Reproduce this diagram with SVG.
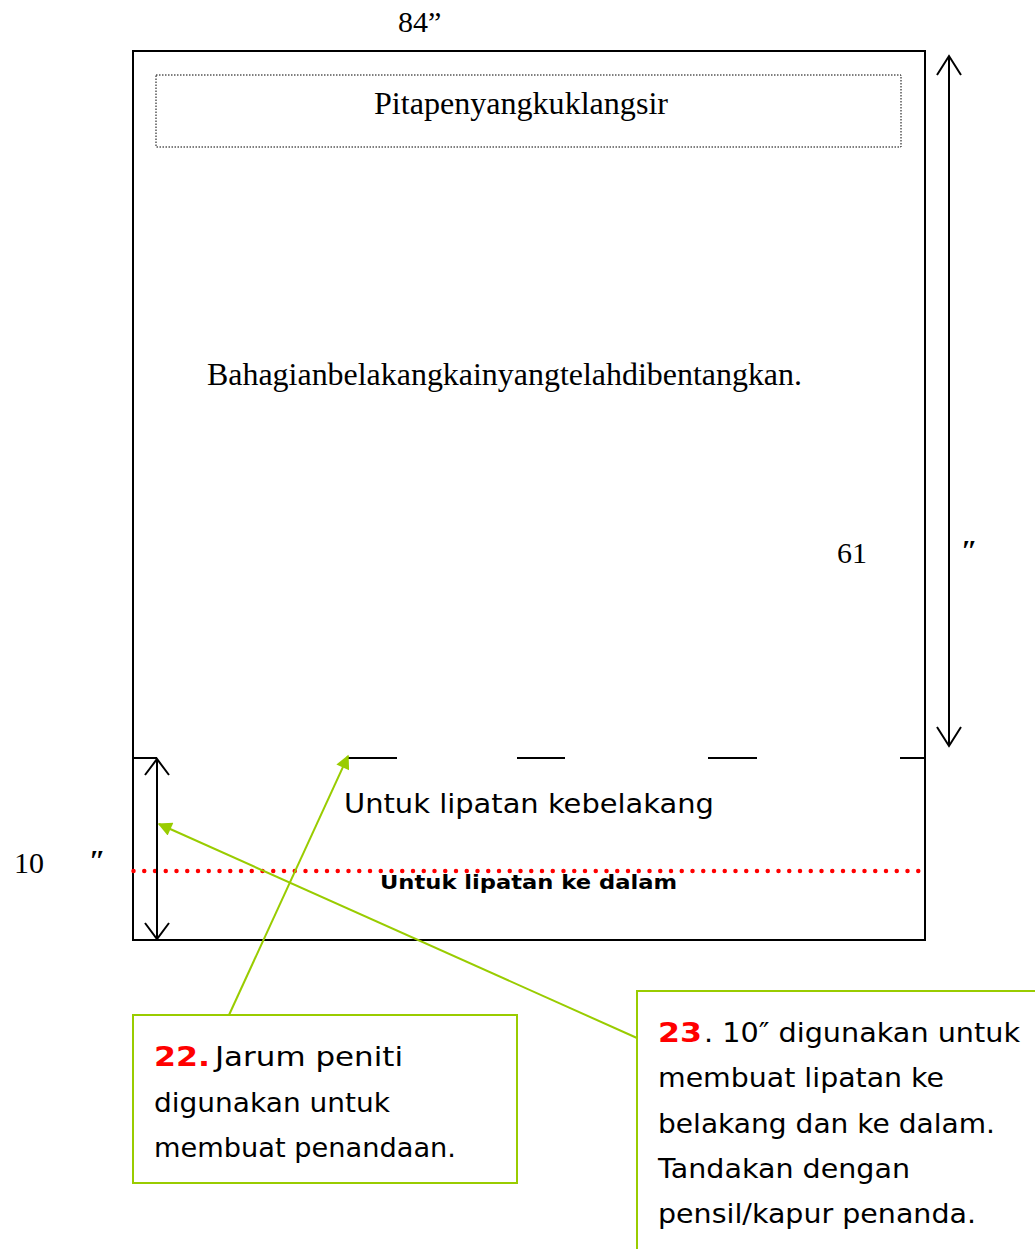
<svg xmlns="http://www.w3.org/2000/svg" width="1035" height="1249" viewBox="0 0 1035 1249">
<style>
.serif{font-family:"Liberation Serif","Times New Roman",serif;fill:#000}
.comic{font-family:"DejaVu Sans","Noto Sans",sans-serif;fill:#000}
.blk{stroke:#000;fill:none}
.green{stroke:#99cc00;fill:none;stroke-width:2}
.num{fill:#ff0000;font-weight:bold}
</style>
<defs>
<marker id="greenHead" viewBox="0 0 10 10" refX="9" refY="5" markerWidth="16" markerHeight="14" markerUnits="userSpaceOnUse" orient="auto">
<path d="M0,0 L10,5 L0,10 z" fill="#99cc00"/>
</marker>
</defs>
<g id="label-84"><text class="serif" x="398" y="32" font-size="30">84”</text></g>
<g id="sheet">
<rect x="133" y="51" width="792" height="889" class="blk" stroke-width="2"/>
</g>
<g id="tape">
<rect x="156" y="75" width="745" height="72" fill="none" stroke="#000" stroke-width="1" stroke-dasharray="1.5,1.5"/>
<text class="serif" x="374" y="114" font-size="31" textLength="294" lengthAdjust="spacingAndGlyphs">Pitapenyangkuklangsir</text>
</g>
<g id="main-label"><text class="serif" x="207" y="385" font-size="31" textLength="595" lengthAdjust="spacingAndGlyphs">Bahagianbelakangkainyangtelahdibentangkan.</text></g>
<g id="label-61">
<text class="serif" x="837" y="563" font-size="30">61</text>
<text class="serif" x="961" y="560" font-size="30" font-style="italic" font-weight="bold">″</text>
</g>
<g id="label-10">
<text class="serif" x="14" y="873" font-size="30">10</text>
<text class="serif" x="89" y="870" font-size="30" font-style="italic" font-weight="bold">″</text>
</g>
<g id="fold-line">
<path d="M133,758 H157 M348,758 H397 M517,758 H565 M708,758 H757 M900,758 H925" class="blk" stroke-width="2"/>
</g>
<g id="inner-line">
<line x1="133.5" y1="871" x2="925" y2="871" stroke="#ff0000" stroke-width="4.5" stroke-linecap="round" stroke-dasharray="0,10.75"/>
</g>
<g id="fold-labels">
<text class="comic" x="344" y="813" font-size="27" textLength="370" lengthAdjust="spacingAndGlyphs">Untuk lipatan kebelakang</text>
<text class="comic" x="380" y="889" font-size="20" font-weight="bold" textLength="297" lengthAdjust="spacingAndGlyphs">Untuk lipatan ke dalam</text>
</g>
<g id="dimensions">
<path d="M949,56 V746 M937,75 L949,56 L961,75 M937,727 L949,746 L961,727" class="blk" stroke-width="2"/>
<path d="M157,759 V939 M145,775 L157,759 L169,775 M145,923 L157,939 L169,923" class="blk" stroke-width="2"/>
</g>
<g id="connectors">
<line x1="229" y1="1015" x2="348" y2="756" class="green" marker-end="url(#greenHead)"/>
<line x1="637" y1="1038" x2="159" y2="824" class="green" marker-end="url(#greenHead)"/>
</g>
<g id="note-22">
<rect x="133" y="1015" width="384" height="168" fill="#fff" class="green"/>
<text class="comic" font-size="27" x="154" y="1066"><tspan class="num" textLength="56" lengthAdjust="spacingAndGlyphs">22.</tspan><tspan x="215" textLength="188" lengthAdjust="spacingAndGlyphs">Jarum peniti</tspan></text>
<text class="comic" font-size="27" x="154" y="1112" textLength="236" lengthAdjust="spacingAndGlyphs">digunakan untuk</text>
<text class="comic" font-size="27" x="154" y="1157" textLength="302" lengthAdjust="spacingAndGlyphs">membuat penandaan.</text>
</g>
<g id="note-23">
<rect x="637" y="991" width="420" height="280" fill="#fff" class="green"/>
<text class="comic" font-size="27" x="658" y="1042"><tspan class="num" textLength="44" lengthAdjust="spacingAndGlyphs">23</tspan><tspan x="704" textLength="316" lengthAdjust="spacingAndGlyphs">. 10″ digunakan untuk</tspan></text>
<text class="comic" font-size="27" x="658" y="1087" textLength="286" lengthAdjust="spacingAndGlyphs">membuat lipatan ke</text>
<text class="comic" font-size="27" x="658" y="1133" textLength="337" lengthAdjust="spacingAndGlyphs">belakang dan ke dalam.</text>
<text class="comic" font-size="27" x="658" y="1178" textLength="252" lengthAdjust="spacingAndGlyphs">Tandakan dengan</text>
<text class="comic" font-size="27" x="658" y="1223" textLength="318" lengthAdjust="spacingAndGlyphs">pensil/kapur penanda.</text>
</g>
</svg>
